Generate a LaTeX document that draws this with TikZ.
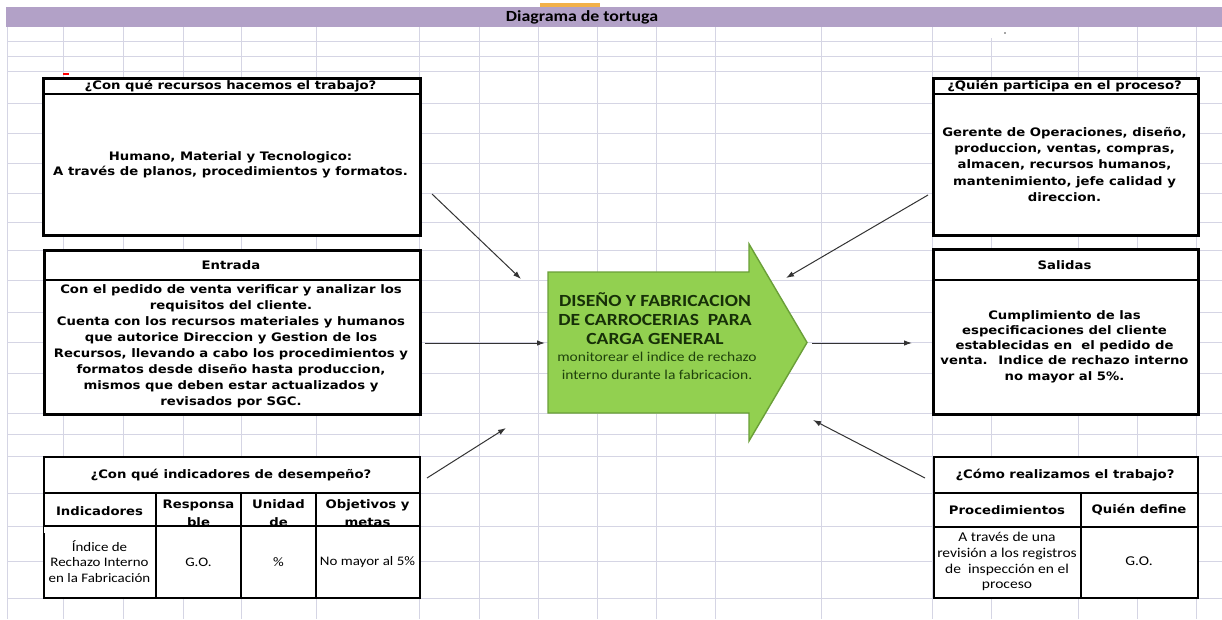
\documentclass[tikz,border=0pt]{standalone}
\usepackage{fontspec}
\setmainfont{DejaVu Sans}
\newfontfamily\tahfont[FakeStretch=1.13]{DejaVu Sans}
\newfontfamily\calfont[FakeStretch=1.15]{Carlito}
\usetikzlibrary{arrows.meta}
\definecolor{gridc}{HTML}{D5D5E4}
\definecolor{titlec}{HTML}{B2A1C7}
\definecolor{tabc}{HTML}{F2B14A}
\definecolor{greenf}{HTML}{92D050}
\definecolor{greend}{HTML}{6A9F38}
\definecolor{greent}{HTML}{173008}
\definecolor{greens}{HTML}{1F420C}
\begin{document}
\begin{tikzpicture}[x=1pt,y=-1pt,
  gridline/.style={draw=gridc, line width=0.9pt},
  box/.style={draw=black, line width=2.6pt, fill=white, inner sep=0pt},
  tbl/.style={draw=black, line width=1.8pt, fill=white, inner sep=0pt},
  sep/.style={draw=black, line width=1.4pt},
  hdr/.style={font=\tahfont\bfseries\fontsize{11.7}{14}\selectfont, align=center, inner sep=0pt},
  txt/.style={font=\tahfont\bfseries\fontsize{11.7}{#1}\selectfont, align=center, inner sep=0pt},
  cell/.style={font=\calfont\fontsize{#1}{15.8}\selectfont, align=center, inner sep=0pt},
  conn/.style={draw=black!80, line width=1pt, -{Latex[length=8pt,width=5.5pt]}},
  procshape/.style={fill=greenf, draw=greend, line width=1.4pt, line join=miter},
]
\useasboundingbox (0,0) rectangle (1222,619);
\fill[white] (0,0) rectangle (1222,619);
% spreadsheet grid
\foreach \x in {7,63,123,183,241,316,419,479,538,597,656,715,821,932,991,1078,1137,1196}
  \draw[gridline] (\x,27) -- (\x,619);
\foreach \y in {41,56,71,103,133,163,193,222,250,280,312,342,373,413,434,456,493,526,561,598}
  \draw[gridline] (7,\y) -- (1222,\y);
\fill[white] (990,27) rectangle (1050,38);
\fill[black!70] (1005,33) circle (0.8pt);
% title bar
\fill[tabc] (540,3) rectangle (600,7);
\fill[titlec] (6,7) rectangle (1222,27);
\node[font=\calfont\bfseries\fontsize{15.5}{18}\selectfont, inner sep=0pt] (title) at (582,17) {Diagrama de tortuga};
\draw[red, line width=1.2pt] (63,74) -- (69,74);

% top-left box
\node[box, minimum width=377pt, minimum height=157pt, anchor=north west] (recursos) at (42,77) {};
\draw[sep] (42,94) -- (419,94);
\node[hdr] (recursosH) at (230.5,86) {¿Con qué recursos hacemos el trabajo?};
\node[txt=15] (recursosT) at (230.5,165) {Humano, Material y Tecnologico:\\A través de planos, procedimientos y formatos.};

% entrada box
\node[box, minimum width=376pt, minimum height=164pt, anchor=north west] (entrada) at (43,249) {};
\draw[sep] (43,280) -- (419,280);
\node[hdr] (entradaH) at (231,265) {Entrada};
\node[txt=16] (entradaT) at (231,346) {Con el pedido de venta verificar y analizar los\\requisitos del cliente.\\Cuenta con los recursos materiales y humanos\\que autorice Direccion y Gestion de los\\Recursos, llevando a cabo los procedimientos y\\formatos desde diseño hasta produccion,\\mismos que deben estar actualizados y\\revisados por SGC.};

% top-right box
\node[box, minimum width=265pt, minimum height=157pt, anchor=north west] (quien) at (932,77) {};
\draw[sep] (932,94) -- (1197,94);
\node[hdr] (quienH) at (1064.5,86) {¿Quién participa en el proceso?};
\node[txt=16.25] (quienT) at (1064.5,164.5) {Gerente de Operaciones, diseño,\\produccion, ventas, compras,\\almacen, recursos humanos,\\mantenimiento, jefe calidad y\\direccion.};

% salidas box
\node[box, minimum width=265pt, minimum height=165pt, anchor=north west] (salidas) at (932,248) {};
\draw[sep] (932,280) -- (1197,280);
\node[hdr] (salidasH) at (1064.5,265) {Salidas};
\node[txt=15.3] (salidasT) at (1064.5,346.5) {Cumplimiento de las\\especificaciones del cliente\\establecidas en~ el pedido de\\venta.~ Indice de rechazo interno\\no mayor al 5\%.};

% indicadores table
\node[tbl, minimum width=376pt, minimum height=141pt, anchor=north west] (indic) at (43,456) {};
\node[hdr] (indicH) at (231,475) {¿Con qué indicadores de desempeño?};
\node[hdr] (c1h) at (99.5,511) {Indicadores};
\node[txt=18] (c2h) at (198.5,513.5) {Responsa\\ble};
\node[txt=18] (c3h) at (278.5,513.5) {Unidad\\de};
\node[txt=18] (c4h) at (367.5,513.5) {Objetivos y\\metas};
\fill[white] (44,527) rectangle (418,533);
\draw[sep] (43,493) -- (419,493);
\draw[sep] (43,526) -- (419,526);
\draw[sep] (156,493) -- (156,597);
\draw[sep] (241,493) -- (241,597);
\draw[sep] (316,493) -- (316,597);
\node[cell=13] (c1b) at (99.5,561.5) {Índice de\\Rechazo Interno\\en la Fabricación};
\node[cell=13] (c2b) at (198.5,562) {G.O.};
\node[cell=13] (c3b) at (278.5,562) {\%};
\node[cell=13] (c4b) at (367.5,562) {No mayor al 5\%};

% como table
\node[tbl, minimum width=264pt, minimum height=141pt, anchor=north west] (como) at (933,456) {};
\draw[sep] (933,493) -- (1197,493);
\draw[sep] (933,527) -- (1197,527);
\draw[sep] (1081,493) -- (1081,597);
\node[hdr] (comoH) at (1065,475) {¿Cómo realizamos el trabajo?};
\node[hdr] (d1h) at (1007,510) {Procedimientos};
\node[hdr] (d2h) at (1139,510) {Quién define};
\node[cell=13.5] (d1b) at (1007,561.5) {A través de una\\revisión a los registros\\de~ inspección en el\\proceso};
\node[cell=13.5] (d2b) at (1139,561) {G.O.};

% central process arrow
\draw[procshape] (548,272) -- (749,272) -- (749,244) -- (807,342.5) -- (749,441) -- (749,413) -- (548,413) -- cycle;
\node[font=\calfont\bfseries\fontsize{17}{19}\selectfont, text=greent, align=center, inner sep=0pt] (proc) at (655,319) {DISEÑO Y FABRICACION\\DE CARROCERIAS~ PARA\\CARGA GENERAL};
\node[font=\calfont\fontsize{13.5}{18}\selectfont, text=greens, align=center, inner sep=0pt] (procsub) at (657,366) {monitorear el indice de rechazo\\interno durante la fabricacion.};

% connectors
\coordinate (a1s) at (432,194); \coordinate (a1e) at (521,279);
\coordinate (a2s) at (425,343); \coordinate (a2e) at (545,343);
\coordinate (a3s) at (427,478); \coordinate (a3e) at (506,428);
\coordinate (a4s) at (928,195); \coordinate (a4e) at (786,278);
\coordinate (a5s) at (812,343); \coordinate (a5e) at (912,343);
\coordinate (a6s) at (925,478); \coordinate (a6e) at (813,420);
\draw[conn] (a1s) -- (a1e);
\draw[conn] (a2s) -- (a2e);
\draw[conn] (a3s) -- (a3e);
\draw[conn] (a4s) -- (a4e);
\draw[conn] (a5s) -- (a5e);
\draw[conn] (a6s) -- (a6e);
\end{tikzpicture}
\end{document}
